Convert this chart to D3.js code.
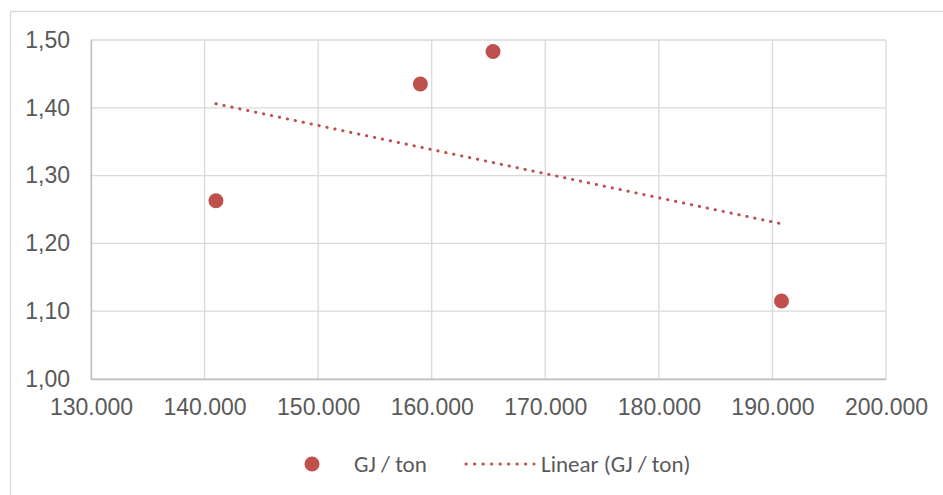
<!DOCTYPE html>
<html lang="en">
<head>
    <meta charset="UTF-8">
    <title>GJ / ton</title>
    <script src="https://cdn.jsdelivr.net/npm/d3@7/dist/d3.min.js"></script>
    <style>
        body { margin: 0; background: #fff; }
        svg { display: block; font-family: Carlito, Calibri, "Open Sans", sans-serif; }
        .tick text { fill: #595959; font-size: 23px; }
        .grid line { stroke: #d9d9d9; stroke-width: 1.3; }
        .legend text { fill: #595959; font-size: 23px; }
    </style>
</head>
<body>
<script>
    const width = 943;
    const height = 495;

    // data
    const tonnes = [141000, 159000, 165400, 190800];
    const gjPerTon = [1.263, 1.435, 1.483, 1.115];
    const xTicks = [130000, 140000, 150000, 160000, 170000, 180000, 190000, 200000];
    const yTicks = [1.0, 1.1, 1.2, 1.3, 1.4, 1.5];
    const seriesName = "GJ / ton";
    const trendName = "Linear (GJ / ton)";
    const red = "#c0504d";

    const margin = {left: 91, right: 57, top: 40, bottom: 116};

    const svg = d3.select("body").append("svg")
        .attr("width", width).attr("height", height);

    // chart frame, right and bottom edges run off the picture
    svg.append("rect")
        .attr("x", 10.5).attr("y", 11.5)
        .attr("width", 960).attr("height", 500)
        .attr("fill", "none").attr("stroke", "#d9d9d9").attr("stroke-width", 1.3);

    const x = d3.scaleLinear().domain([130000, 200000])
        .range([margin.left, width - margin.right]);
    const y = d3.scaleLinear().domain([1.0, 1.5])
        .range([height - margin.bottom, margin.top]);

    const fmtX = v => d3.format(",")(v).replace(/,/g, ".");
    const fmtY = v => d3.format(".2f")(v).replace(".", ",");

    // gridlines
    svg.append("g").attr("class", "grid")
        .selectAll("line.v").data(xTicks).enter().append("line")
        .attr("x1", d => x(d)).attr("x2", d => x(d))
        .attr("y1", y(1.5)).attr("y2", y(1.0));
    svg.append("g").attr("class", "grid")
        .selectAll("line.h").data(yTicks).enter().append("line")
        .attr("x1", x(130000)).attr("x2", x(200000))
        .attr("y1", d => y(d)).attr("y2", d => y(d));

    // axes
    const xAxis = svg.append("g")
        .attr("transform", `translate(0,${y(1.0)})`)
        .call(d3.axisBottom(x).tickValues(xTicks).tickFormat(fmtX).tickSize(0).tickPadding(20));
    xAxis.select(".domain").attr("stroke", "#bfbfbf").attr("stroke-width", 1.3);

    const yAxis = svg.append("g")
        .attr("transform", `translate(${x(130000)},0)`)
        .call(d3.axisLeft(y).tickValues(yTicks).tickFormat(fmtY).tickSize(0).tickPadding(21));
    yAxis.select(".domain").attr("stroke", "#bfbfbf").attr("stroke-width", 1.3);

    // linear trendline (least squares)
    const mx = d3.mean(tonnes), my = d3.mean(gjPerTon);
    const slope = d3.sum(tonnes, (t, i) => (t - mx) * (gjPerTon[i] - my)) /
                  d3.sum(tonnes, t => (t - mx) * (t - mx));
    const fit = t => my + slope * (t - mx);
    const ends = d3.extent(tonnes);

    svg.append("path")
        .datum(ends)
        .attr("d", d3.line().x(d => x(d)).y(d => y(fit(d))))
        .attr("fill", "none")
        .attr("stroke", red)
        .attr("stroke-width", 3)
        .attr("stroke-linecap", "round")
        .attr("stroke-dasharray", "0.3 7.8");

    // points
    svg.selectAll("circle.pt")
        .data(tonnes)
        .enter().append("circle")
        .attr("class", "pt")
        .attr("cx", d => x(d))
        .attr("cy", (d, i) => y(gjPerTon[i]))
        .attr("r", 7.5)
        .attr("fill", red);

    // legend
    const legend = svg.append("g").attr("class", "legend");
    legend.append("circle")
        .attr("cx", 312).attr("cy", 464).attr("r", 7.5).attr("fill", red);
    legend.append("text")
        .attr("x", 354).attr("y", 464).attr("dy", "0.35em").text(seriesName);
    legend.append("line")
        .attr("x1", 466).attr("x2", 534).attr("y1", 464).attr("y2", 464)
        .attr("stroke", red).attr("stroke-width", 3)
        .attr("stroke-linecap", "round").attr("stroke-dasharray", "0.3 8.2");
    legend.append("text")
        .attr("x", 541).attr("y", 464).attr("dy", "0.35em").text(trendName);
</script>
</body>
</html>
